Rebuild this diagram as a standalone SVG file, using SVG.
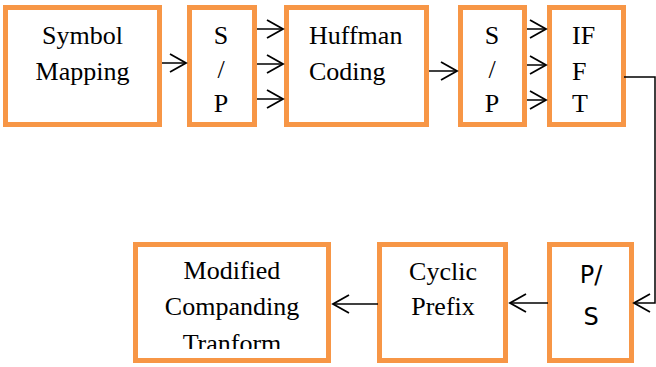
<svg xmlns="http://www.w3.org/2000/svg" width="656" height="367" viewBox="0 0 656 367">
  <defs>
    <style>
      .box { fill: #ffffff; stroke: #F79646; stroke-width: 5; }
      .mid { text-anchor: middle; }
      .wire { fill: none; stroke: #000000; stroke-width: 1.5; }
    </style>
    <marker id="open" markerUnits="userSpaceOnUse" markerWidth="20" markerHeight="22" refX="17" refY="10" orient="auto">
      <path d="M1,1 L17,10 L1,19" fill="none" stroke="#000000" stroke-width="1.8"/>
    </marker>
    <clipPath id="mctClip">
      <rect x="138" y="247" width="188" height="102"/>
    </clipPath>
  </defs>

  <rect width="656" height="367" fill="#ffffff"/>

  <g font-family="Liberation Serif, Times New Roman, serif" font-size="26" fill="#000000">
  <!-- top row -->
  <g id="symbol-mapping">
    <rect class="box" x="5.5" y="7.5" width="154" height="117"/>
    <text class="mid" x="82.5" y="44">Symbol</text>
    <text class="mid" x="82.5" y="80">Mapping</text>
  </g>

  <g id="sp1">
    <rect class="box" x="189.5" y="7.5" width="65" height="117"/>
    <text class="mid" x="221" y="44">S</text>
    <text class="mid" x="221" y="78">/</text>
    <text class="mid" x="221" y="112">P</text>
  </g>

  <g id="huffman">
    <rect class="box" x="286.5" y="7.5" width="140" height="117"/>
    <text x="309" y="44">Huffman</text>
    <text x="309" y="80">Coding</text>
  </g>

  <g id="sp2">
    <rect class="box" x="460.5" y="7.5" width="64" height="117"/>
    <text class="mid" x="492" y="44">S</text>
    <text class="mid" x="492" y="78">/</text>
    <text class="mid" x="492" y="112">P</text>
  </g>

  <g id="ifft">
    <rect class="box" x="549.5" y="7.5" width="74" height="117"/>
    <text x="572" y="44">IF</text>
    <text x="572" y="80">F</text>
    <text x="572" y="112">T</text>
  </g>

  <!-- bottom row -->
  <g id="ps">
    <rect class="box" x="549.5" y="244.5" width="82" height="116"/>
    <text class="mid" x="591" y="283" font-family="DejaVu Sans, sans-serif" font-size="24">P/</text>
    <text class="mid" x="591" y="325" font-family="DejaVu Sans, sans-serif" font-size="24">S</text>
  </g>

  <g id="cyclic-prefix">
    <rect class="box" x="379.5" y="244.5" width="126" height="116"/>
    <text class="mid" x="443" y="280">Cyclic</text>
    <text class="mid" x="443" y="315">Prefix</text>
  </g>

  <g id="companding">
    <rect class="box" x="135.5" y="244.5" width="193" height="116"/>
    <g clip-path="url(#mctClip)">
      <text class="mid" x="232" y="279">Modified</text>
      <text class="mid" x="232" y="315">Companding</text>
      <text class="mid" x="232" y="352">Tranform</text>
    </g>
  </g>
  </g>

  <!-- connectors -->
  <g id="connectors">
    <path class="wire" d="M162,63 H186" marker-end="url(#open)"/>
    <path class="wire" d="M257,29 H283" marker-end="url(#open)"/>
    <path class="wire" d="M257,64 H283" marker-end="url(#open)"/>
    <path class="wire" d="M257,99 H283" marker-end="url(#open)"/>
    <path class="wire" d="M429,71 H457" marker-end="url(#open)"/>
    <path class="wire" d="M527,29 H546" marker-end="url(#open)"/>
    <path class="wire" d="M527,65 H546" marker-end="url(#open)"/>
    <path class="wire" d="M527,100 H546" marker-end="url(#open)"/>
    <path class="wire" d="M624,77 H655 V303 H634" marker-end="url(#open)"/>
    <path class="wire" d="M548,303 H510" marker-end="url(#open)"/>
    <path class="wire" d="M378,304 H333" marker-end="url(#open)"/>
  </g>
</svg>
